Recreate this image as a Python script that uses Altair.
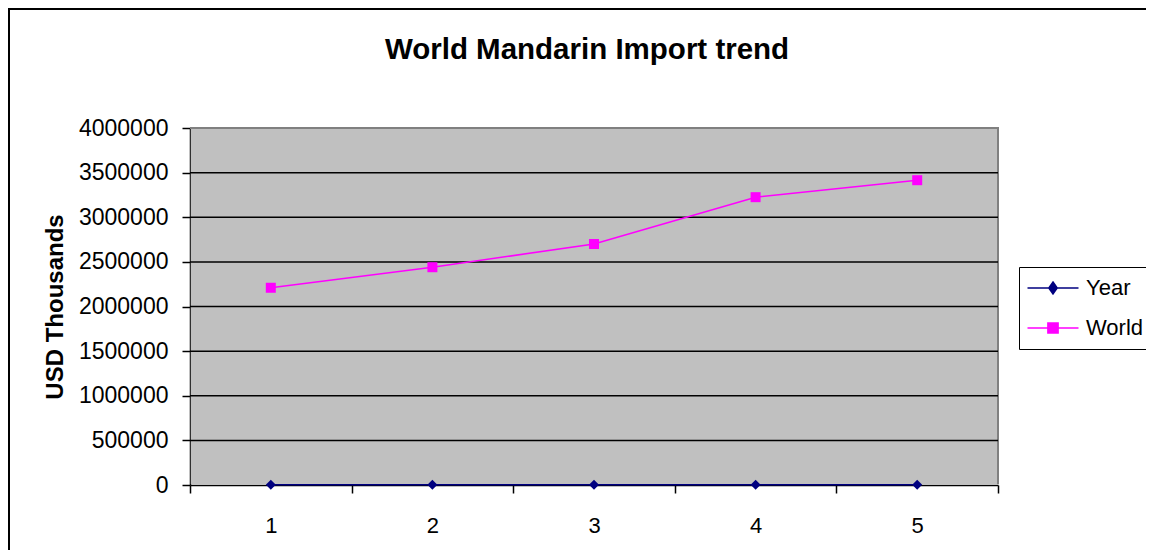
import altair as alt
import pandas as pd

categories = [1, 2, 3, 4, 5]
year_values = [2003, 2004, 2005, 2006, 2007]
world_values = [2210000, 2440000, 2700000, 3225000, 3415000]
series_names = ["Year", "World"]
series_colors = ["#000080", "#FF00FF"]
series_shapes = ["diamond", "square"]
y_ticks = [0, 500000, 1000000, 1500000, 2000000, 2500000, 3000000, 3500000, 4000000]
grid_values = [500000, 1000000, 1500000, 2000000, 2500000, 3000000, 3500000]

df = pd.DataFrame({
    "cat": categories + categories,
    "series": ["Year"] * len(year_values) + ["World"] * len(world_values),
    "value": year_values + world_values,
})
legend_df = pd.DataFrame({"lg": series_names})
grid_df = pd.DataFrame({"value": grid_values})
one = pd.DataFrame({"a": [0]})

FONT = "Liberation Sans"
W, H = 808, 357

# legend glyphs: a short line with the series marker on it
legend_glyphs = [
    "M-4.25,0H4.25M0,-1L0.7,0L0,1L-0.7,0Z",
    "M-4.25,0H4.25M-0.85,-0.85H0.85V0.85H-0.85Z",
]

x = alt.X("cat:O", bandPosition=0.5,
          scale=alt.Scale(type="band", paddingInner=0, paddingOuter=0),
          axis=alt.Axis(title=None, labelAngle=0, tickBand="extent", labelFont=FONT,
                        labelFontSize=22, labelColor="black", tickColor="black", tickSize=8,
                        tickWidth=1.5, domainColor="black", domainWidth=1.5,
                        labelPadding=22, grid=False))
y_scale = alt.Scale(domain=[0, 4000000], nice=False, zero=True)
y = alt.Y("value:Q", scale=y_scale,
          axis=alt.Axis(values=y_ticks, format="d", title="USD Thousands", titleFont=FONT,
                        titleFontSize=24, titleFontWeight="bold", titleColor="black",
                        titlePadding=11, labelFont=FONT, labelFontSize=23, labelColor="black",
                        tickColor="black", tickSize=8, tickWidth=1.5, domainColor="black",
                        domainWidth=1.5, labelPadding=14, grid=False))

color_scale = alt.Scale(domain=series_names, range=series_colors)

plot_bg = alt.Chart(one).mark_rect(fill="#C0C0C0").encode(
    x=alt.value(0.75), x2=alt.value(W), y=alt.value(0), y2=alt.value(H - 0.75))
border_top = alt.Chart(one).mark_rule(color="#808080", strokeWidth=2).encode(
    x=alt.value(0), x2=alt.value(W + 1), y=alt.value(0))
border_right = alt.Chart(one).mark_rule(color="#808080", strokeWidth=2).encode(
    x=alt.value(W), y=alt.value(0), y2=alt.value(H - 0.75))

grid = alt.Chart(grid_df).mark_rule(color="black", strokeWidth=1.5).encode(y=y)

base = alt.Chart(df)
lines = base.mark_line(strokeWidth=1.5).encode(
    x=x, y=y, color=alt.Color("series:N", scale=color_scale, legend=None), detail="series:N")
points = base.mark_point(filled=True, opacity=1, size=100).encode(
    x=x, y=y, color=alt.Color("series:N", scale=color_scale, legend=None),
    shape=alt.Shape("series:N", scale=alt.Scale(domain=series_names, range=series_shapes), legend=None),
)

legend = alt.Legend(
    orient="none", legendX=829, legendY=139, title=None,
    strokeColor="black", fillColor="white", padding=10,
    labelFont=FONT, labelFontSize=22, labelColor="black",
    symbolSize=144, symbolOffset=13, labelOffset=22, rowPadding=18,
    symbolOpacity=1, symbolStrokeWidth=1.5,
)
legend_layer = alt.Chart(legend_df).mark_point(filled=True, opacity=0).encode(
    color=alt.Color("lg:N", scale=color_scale, legend=legend),
    stroke=alt.Stroke("lg:N", scale=color_scale, legend=legend),
    shape=alt.Shape("lg:N", scale=alt.Scale(domain=series_names, range=legend_glyphs), legend=legend),
)

frame = alt.Chart(one).mark_rect(
    fill="#FFFFFF", fillOpacity=0, stroke="black", strokeWidth=2, clip=False
).encode(
    x=alt.value(-181), x2=alt.value(1100), y=alt.value(-119), y2=alt.value(520)
)

chart = alt.layer(frame, plot_bg, border_top, border_right, grid, lines, points, legend_layer).resolve_scale(
    color="independent", shape="independent", stroke="independent"
).properties(
    width=W, height=H,
    title=alt.TitleParams("World Mandarin Import trend", font=FONT, fontSize=29.5, fontWeight="bold",
                          color="black", anchor="middle", frame="group", baseline="alphabetic",
                          dx=-7, offset=-80),
    autosize=alt.AutoSizeParams(type="none"),
    padding={"left": 182, "top": 120, "right": 148, "bottom": 65},
).configure_view(stroke=None)

chart.save("out.html", embed_options={"renderer": "svg", "actions": False})
